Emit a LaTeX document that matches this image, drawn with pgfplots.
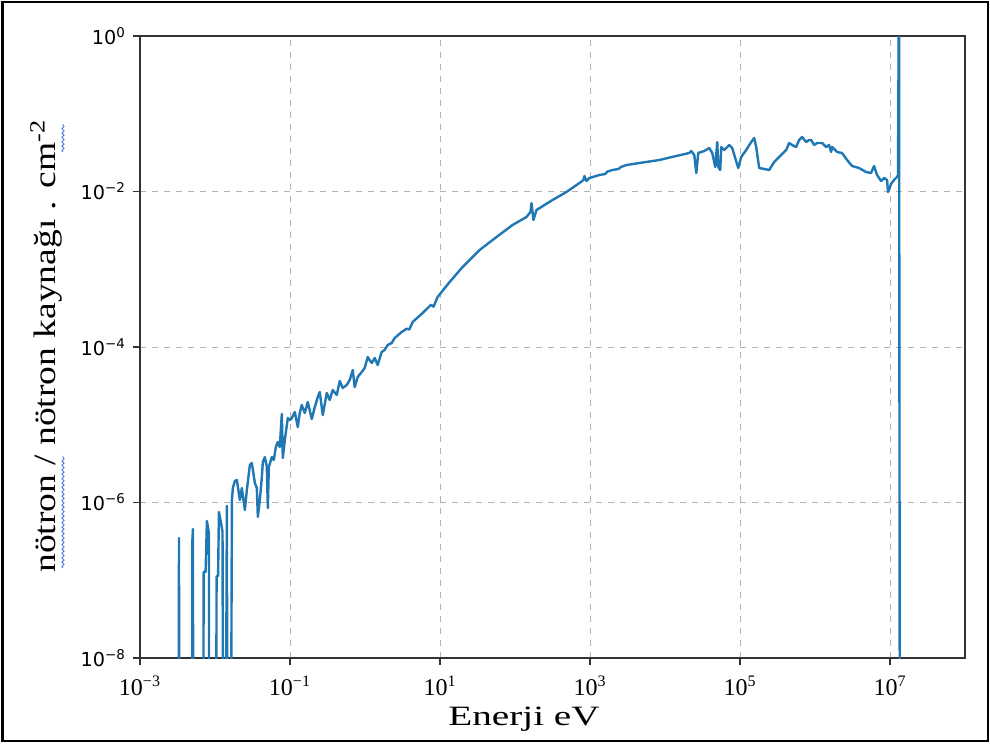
\documentclass[border=0pt]{standalone}
\usepackage{pgfplots}
\pgfplotsset{compat=1.18}
\usepackage{fontspec}
\setmainfont{Liberation Serif}
\newfontfamily\dejavu{DejaVu Sans}
\usetikzlibrary{decorations.pathmorphing}
\definecolor{mplblue}{HTML}{1F77B4}
\definecolor{spellblue}{HTML}{4A7BD8}
\begin{document}
\begin{tikzpicture}
\useasboundingbox (0,0) rectangle (495pt,372pt);
\draw[line width=1.1pt] (1.2pt,1.5pt) rectangle (494pt,371pt);
\begin{axis}[
  at={(70pt,43pt)}, anchor=south west,
  scale only axis, width=412.5pt, height=311pt,
  xmode=log, ymode=log,
  xmin=1e-3, xmax=1e8, ymin=1e-8, ymax=1,
  xtick={1e-3,1e-1,1e1,1e3,1e5,1e7},
  xticklabels={10\textsuperscript{−3},10\textsuperscript{−1},10\textsuperscript{1},10\textsuperscript{3},10\textsuperscript{5},10\textsuperscript{7}},
  ytick={1e-8,1e-6,1e-4,1e-2,1},
  yticklabels={10\textsuperscript{−8},10\textsuperscript{−6},10\textsuperscript{−4},10\textsuperscript{−2},10\textsuperscript{0}},
  minor xtick={}, minor ytick={},
  tick pos=left, tick align=outside,
  major tick length=3.5pt,
  xticklabel style={font=\fontsize{12}{13}\selectfont, yshift=-2pt},
  yticklabel style={font=\dejavu\fontsize{9.6}{11}\selectfont},
  grid=major,
  major grid style={gray!60, dashed, line width=0.5pt},
  axis line style={black!80, line width=0.6pt},
  every tick/.style={black!80, line width=0.6pt},
]
\addplot[mplblue, line width=1.2pt, line join=round] table {
E V
3.25e-3 1e-12
3.31e-3 3.49e-7
3.37e-3 1e-12
4.93e-3 1e-12
5.0e-3 3.29e-7
5.08e-3 4.56e-7
5.16e-3 1e-12
6.95e-3 1e-12
7.05e-3 1.28e-7
7.5e-3 1.28e-7
7.8e-3 5.78e-7
8.3e-3 4.05e-7
8.4e-3 1e-12
1.02e-2 1e-12
1.05e-2 1.13e-7
1.10e-2 1.13e-7
1.127e-2 7.55e-7
1.2e-2 5.5e-7
1.26e-2 4.2e-7
1.3e-2 1e-12
1.36e-2 1e-12
1.44e-2 9.01e-7
1.48e-2 1e-12
1.6e-2 1e-12
1.68e-2 1.076e-6
1.731e-2 1.536e-6
1.841e-2 1.89e-6
1.957e-2 1.947e-6
2.146e-2 1.076e-6
2.281e-2 1.536e-6
2.501e-2 8.0e-7
2.659e-2 1.447e-6
2.916e-2 3.034e-6
3.10e-2 3.22e-6
3.40e-2 1.781e-6
3.61e-2 1.536e-6
3.727e-2 6.51e-7
3.96e-2 1.076e-6
4.214e-2 2.127e-6
4.345e-2 3.317e-6
4.62e-2 3.847e-6
4.91e-2 2.86e-6
5.06e-2 8.49e-7
5.22e-2 2.86e-6
5.72e-2 3.847e-6
6.085e-2 3.52e-6
6.47e-2 5.17e-6
6.88e-2 6.0e-6
7.31e-2 5.17e-6
7.78e-2 1.374e-5
8.02e-2 3.734e-6
8.53e-2 6.365e-6
9.35e-2 1.221e-5
9.94e-2 1.151e-5
0.1057 1.221e-5
0.1159 1.458e-5
0.127 9.35e-6
0.135 1.416e-5
0.1436 1.794e-5
0.1574 1.416e-5
0.1726 1.961e-5
0.1952 1.186e-5
0.214 1.691e-5
0.2346 2.274e-5
0.2494 2.637e-5
0.2734 1.334e-5
0.309 2.56e-5
0.3388 2.08e-5
0.3715 2.798e-5
0.4201 2.413e-5
0.4606 3.652e-5
0.505 2.97e-5
0.5708 3.245e-5
0.6259 3.762e-5
0.6862 5.06e-5
0.7296 3.058e-5
0.80 4.11e-5
0.904 4.77e-5
0.991 5.37e-5
1.087 7.43e-5
1.228 6.22e-5
1.347 7.22e-5
1.476 5.87e-5
1.669 8.62e-5
1.83 9.15e-5
2.006 1.061e-4
2.268 1.126e-4
2.487 1.305e-4
3.082 1.559e-4
3.6 1.72e-4
3.9 1.68e-4
4.318 2.097e-4
5.866 2.737e-4
7.6 3.5e-4
8.2 3.3e-4
9.29 4.40e-4
13.43 6.85e-4
20.0 1.069e-3
33.7 1.768e-3
56.7 2.598e-3
92.7 3.708e-3
142.3 4.70e-3
161 5.45e-3
165.9 7.11e-3
176.4 4.30e-3
193.4 5.78e-3
315.9 7.77e-3
485.2 9.85e-3
722.8 1.286e-2
817 1.406e-2
842.5 1.582e-2
896 1.365e-2
982 1.491e-2
1334 1.63e-2
1600 1.68e-2
1700 1.80e-2
1988 1.89e-2
2400 1.95e-2
2600 2.07e-2
3054 2.19e-2
4550 2.325e-2
8400 2.542e-2
14150 2.862e-2
21080 3.128e-2
22410 3.32e-2
24570 2.947e-2
26120 1.729e-2
27770 3.128e-2
33390 3.32e-2
38920 3.627e-2
42660 3.128e-2
46770 2.066e-2
49730 4.33e-2
51280 2.066e-2
54530 1.89e-2
56230 3.735e-2
61650 3.417e-2
71830 3.963e-2
78760 3.627e-2
94670 2.006e-2
103800 2.778e-2
121000 3.417e-2
141100 4.33e-2
154600 4.875e-2
164400 3.735e-2
180300 2.006e-2
210100 1.948e-2
244900 1.89e-2
285500 2.395e-2
332900 2.778e-2
412500 3.417e-2
452200 4.205e-2
495900 3.963e-2
560500 3.735e-2
614500 4.597e-2
673700 5.025e-2
761600 4.33e-2
835000 4.597e-2
887800 4.597e-2
973200 3.963e-2
1.067e6 4.205e-2
1.244e6 4.205e-2
1.406e6 3.735e-2
1.541e6 3.963e-2
1.639e6 3.221e-2
1.690e6 3.735e-2
1.970e6 3.221e-2
2.296e6 3.128e-2
2.677e6 2.542e-2
3.121e6 2.128e-2
3.869e6 2.006e-2
4.794e6 1.781e-2
5.59e6 1.729e-2
6.13e6 2.128e-2
6.72e6 1.63e-2
7.60e6 1.365e-2
8.33e6 1.491e-2
9.13e6 1.406e-2
9.41e6 9.85e-3
1.032e7 1.249e-2
1.131e7 1.406e-2
1.24e7 1.537e-2
1.279e7 1.63e-2
1.318e7 10
1.36e7 1e-12
};
\end{axis}
\node at (262pt,12.5pt) {\scalebox{1.4}[1]{\fontsize{14}{16}\selectfont Enerji eV}};
\node[rotate=90] at (23pt,199pt) {\scalebox{1.21}[1]{\fontsize{15.5}{17}\selectfont nötron / nötron kaynağı . cm\textsuperscript{-2}}};
\draw[spellblue, line width=0.45pt, decorate, decoration={snake, amplitude=0.55pt, segment length=2.2pt}] (31.5pt,88pt) -- (31.5pt,144pt);
\draw[spellblue, line width=0.45pt, decorate, decoration={snake, amplitude=0.55pt, segment length=2.2pt}] (31.5pt,296pt) -- (31.5pt,310pt);
\end{tikzpicture}
\end{document}
